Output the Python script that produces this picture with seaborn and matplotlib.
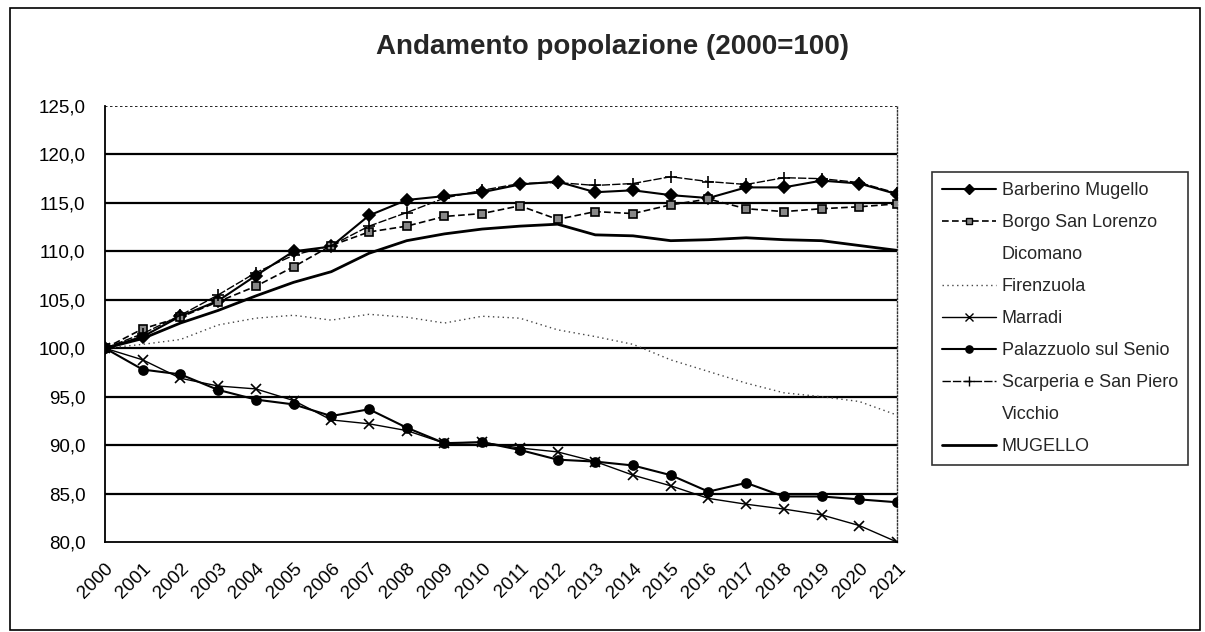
import matplotlib
matplotlib.use("Agg")
import matplotlib.pyplot as plt
from matplotlib.lines import Line2D
from matplotlib.patches import Rectangle
import seaborn as sns
import numpy as np

years = [str(y) for y in range(2000, 2022)]
barberino = [100, 101.2, 103.3, 104.9, 107.5, 110.0, 110.5, 113.7, 115.3, 115.7, 116.1, 116.9,
             117.2, 116.1, 116.3, 115.8, 115.5, 116.6, 116.6, 117.3, 117.0, 115.9]
borgo = [100, 102.0, 103.2, 104.8, 106.4, 108.4, 110.6, 112.0, 112.6, 113.6, 113.9, 114.7,
         113.3, 114.1, 113.9, 114.8, 115.4, 114.4, 114.1, 114.4, 114.6, 114.9]
firenzuola = [100, 100.4, 100.9, 102.4, 103.1, 103.4, 102.9, 103.5, 103.2, 102.6, 103.3, 103.1,
              101.9, 101.2, 100.4, 98.8, 97.6, 96.4, 95.4, 95.0, 94.5, 93.1]
marradi = [100, 98.8, 96.9, 96.1, 95.8, 94.6, 92.6, 92.2, 91.5, 90.2, 90.3, 89.7,
           89.3, 88.3, 86.9, 85.8, 84.5, 83.9, 83.4, 82.8, 81.7, 80.0]
palazzuolo = [100, 97.8, 97.3, 95.7, 94.7, 94.2, 93.0, 93.7, 91.8, 90.2, 90.3, 89.5,
              88.5, 88.3, 87.9, 86.9, 85.2, 86.1, 84.7, 84.7, 84.4, 84.1]
scarperia = [100, 101.5, 103.4, 105.5, 107.8, 109.6, 110.6, 112.6, 114.0, 115.5, 116.3, 117.0,
             117.1, 116.8, 117.0, 117.7, 117.2, 116.9, 117.6, 117.5, 117.1, 116.0]
mugello = [100, 101.0, 102.6, 103.9, 105.4, 106.8, 107.9, 109.8, 111.1, 111.8, 112.3, 112.6,
           112.8, 111.7, 111.6, 111.1, 111.2, 111.4, 111.2, 111.1, 110.6, 110.1]
legend_labels = ["Barberino Mugello", "Borgo San Lorenzo", "Dicomano", "Firenzuola", "Marradi",
                 "Palazzuolo sul Senio", "Scarperia e San Piero", "Vicchio", "MUGELLO"]
y_ticks = [80, 85, 90, 95, 100, 105, 110, 115, 120, 125]
title = "Andamento popolazione (2000=100)"

sns.set_style("white")
plt.rcParams['font.family'] = ['Liberation Sans', 'DejaVu Sans']

W, H = 1205, 632
fig = plt.figure(figsize=(W / 100, H / 100), dpi=100)
fig.patch.set_facecolor("white")
ax = fig.add_axes([105 / W, 1 - 542 / H, (897 - 105) / W, (542 - 106) / H])

x = np.arange(len(years))

# gridlines
for v in y_ticks:
    if v == 125:
        ax.axhline(v, color="black", lw=1.2, ls=(0, (1.5, 1.5)), zorder=1)
    elif v != 80:
        ax.axhline(v, color="black", lw=1.6, zorder=1)

styles = {
    "Barberino Mugello": dict(data=barberino, color="black", lw=1.5, ls="-", marker="D", ms=6,
                              mfc="black", mec="black"),
    "Borgo San Lorenzo": dict(data=borgo, color="black", lw=1.2, ls=(0, (4, 2)), marker="s", ms=6,
                              mfc="#888888", mec="black"),
    "Firenzuola": dict(data=firenzuola, color="#444444", lw=1.0, ls=(0, (1, 2.5)), marker=None, ms=0,
                       mfc="none", mec="none"),
    "Marradi": dict(data=marradi, color="black", lw=1.0, ls="-", marker="x", ms=7,
                    mfc="black", mec="black"),
    "Palazzuolo sul Senio": dict(data=palazzuolo, color="black", lw=1.5, ls="-", marker="o", ms=6.5,
                                 mfc="black", mec="black"),
    "Scarperia e San Piero": dict(data=scarperia, color="black", lw=1.0, ls=(0, (6, 1.5)), marker="+", ms=9,
                                  mfc="black", mec="black"),
    "MUGELLO": dict(data=mugello, color="black", lw=2.0, ls="-", marker=None, ms=0,
                    mfc="none", mec="none"),
}

for name, s in styles.items():
    sns.lineplot(x=x, y=s["data"], ax=ax, color=s["color"], lw=s["lw"], linestyle=s["ls"],
                 marker=s["marker"], markersize=s["ms"], markerfacecolor=s["mfc"],
                 markeredgecolor=s["mec"], markeredgewidth=1.2, zorder=3, legend=False)

ax.set_xlim(0, len(years) - 1)
ax.set_ylim(80, 125)
ax.set_yticks(y_ticks)
ax.set_yticklabels([f"{v:.1f}".replace(".", ",") for v in y_ticks], fontsize=13.5)
ax.set_xticks(x)
ax.set_xticklabels(years, rotation=45, ha="right", va="top", rotation_mode="anchor", fontsize=13.5)
ax.tick_params(axis="both", direction="out", length=5, width=1, color="black", colors="black")
ax.tick_params(axis="y", pad=9)
ax.tick_params(axis="x", pad=8)
ax.set_xlabel("")
ax.set_ylabel("")

for side in ["left", "bottom"]:
    ax.spines[side].set_visible(True)
    ax.spines[side].set_color("black")
    ax.spines[side].set_linewidth(1.3)
ax.spines["top"].set_visible(False)
ax.spines["right"].set_color("#333333")
ax.spines["right"].set_linewidth(1.0)
ax.spines["right"].set_linestyle((0, (1, 1.5)))

fig.text(612 / W, 1 - 47 / H, title, ha="center", va="center", fontsize=20, fontweight="bold")

# legend
handles = []
for lab in legend_labels:
    if lab in styles:
        s = styles[lab]
        handles.append(Line2D([0], [0], color=s["color"], lw=s["lw"], linestyle=s["ls"],
                              marker=s["marker"], markersize=s["ms"] * 0.8,
                              markerfacecolor=s["mfc"], markeredgecolor=s["mec"]))
    else:
        handles.append(Line2D([0], [0], color="none", lw=0))
leg = fig.legend(handles, legend_labels, loc="upper left",
                 bbox_to_anchor=(932 / W, 1 - 172 / H), frameon=True, fontsize=13,
                 handlelength=3.0, labelspacing=0.83, borderpad=0.55, handletextpad=0.3,
                 borderaxespad=0, fancybox=False)
leg.get_frame().set_edgecolor("black")
leg.get_frame().set_linewidth(1.2)

# outer chart border
fig.patches.append(Rectangle((10 / W, 2 / H), 1190 / W, 622 / H, transform=fig.transFigure,
                             fill=False, edgecolor="black", lw=1.2))

fig.savefig("out.png", dpi=100, facecolor="white")
